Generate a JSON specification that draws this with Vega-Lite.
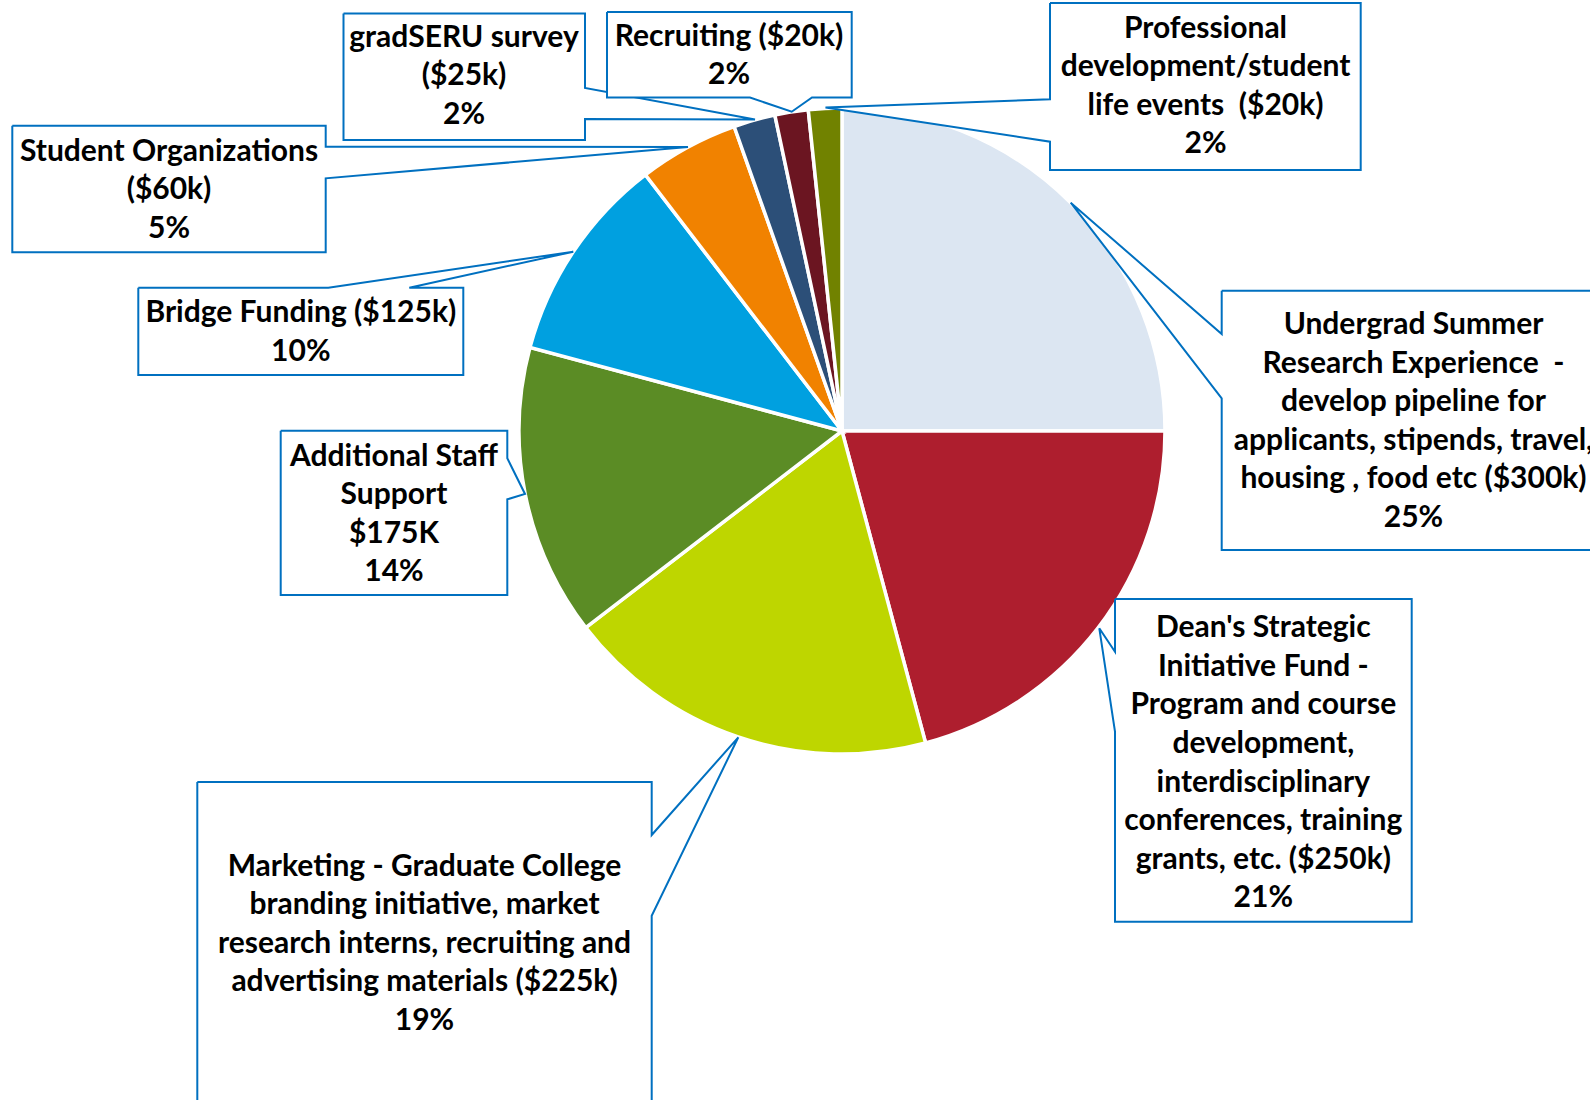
{
  "$schema": "https://vega.github.io/schema/vega-lite/v6.json",
  "width": 1590,
  "height": 1100,
  "autosize": "none",
  "padding": 0,
  "background": "white",
  "config": {"view": {"stroke": null}},
  "datasets": {
    "slices": [
      {"category": "Undergrad Summer Research Experience", "amount": 300, "rank": 1},
      {"category": "Dean's Strategic Initiative Fund", "amount": 250, "rank": 2},
      {"category": "Marketing - Graduate College", "amount": 225, "rank": 3},
      {"category": "Additional Staff Support", "amount": 175, "rank": 4},
      {"category": "Bridge Funding", "amount": 125, "rank": 5},
      {"category": "Student Organizations", "amount": 60, "rank": 6},
      {"category": "gradSERU survey", "amount": 25, "rank": 7},
      {"category": "Recruiting", "amount": 20, "rank": 8},
      {"category": "Professional development/student life events", "amount": 20, "rank": 9}
    ],
    "callouts": [
      {"id": "a_so", "seq": 1, "X": -829.7, "Y": 305.3},
      {"id": "a_so", "seq": 2, "X": -516.3, "Y": 305.3},
      {"id": "a_so", "seq": 3, "X": -516.3, "Y": 284.3},
      {"id": "a_so", "seq": 4, "X": -154, "Y": 284},
      {"id": "a_so", "seq": 5, "X": -516.3, "Y": 252.7},
      {"id": "a_so", "seq": 6, "X": -516.3, "Y": 178.7},
      {"id": "a_so", "seq": 7, "X": -829.7, "Y": 178.7},
      {"id": "a_so", "seq": 8, "X": -829.7, "Y": 305.3},

      {"id": "b_bridge", "seq": 1, "X": -703.7, "Y": 143.3},
      {"id": "b_bridge", "seq": 2, "X": -513.7, "Y": 143.3},
      {"id": "b_bridge", "seq": 3, "X": -268.7, "Y": 179.3},
      {"id": "b_bridge", "seq": 4, "X": -432.7, "Y": 143.3},
      {"id": "b_bridge", "seq": 5, "X": -378.7, "Y": 143.3},
      {"id": "b_bridge", "seq": 6, "X": -378.7, "Y": 56},
      {"id": "b_bridge", "seq": 7, "X": -703.7, "Y": 56},
      {"id": "b_bridge", "seq": 8, "X": -703.7, "Y": 143.3},

      {"id": "c_staff", "seq": 1, "X": -561.3, "Y": 0.3},
      {"id": "c_staff", "seq": 2, "X": -334.7, "Y": 0.3},
      {"id": "c_staff", "seq": 3, "X": -334.7, "Y": -27.3},
      {"id": "c_staff", "seq": 4, "X": -317, "Y": -63},
      {"id": "c_staff", "seq": 5, "X": -334.7, "Y": -68.3},
      {"id": "c_staff", "seq": 6, "X": -334.7, "Y": -164},
      {"id": "c_staff", "seq": 7, "X": -561.3, "Y": -164},
      {"id": "c_staff", "seq": 8, "X": -561.3, "Y": 0.3},

      {"id": "d_mkt", "seq": 1, "X": -644.7, "Y": -351},
      {"id": "d_mkt", "seq": 2, "X": -190.3, "Y": -351},
      {"id": "d_mkt", "seq": 3, "X": -190.3, "Y": -404},
      {"id": "d_mkt", "seq": 4, "X": -103.7, "Y": -306.3},
      {"id": "d_mkt", "seq": 5, "X": -190.3, "Y": -484.7},
      {"id": "d_mkt", "seq": 6, "X": -190.3, "Y": -689},
      {"id": "d_mkt", "seq": 7, "X": -644.7, "Y": -689},
      {"id": "d_mkt", "seq": 8, "X": -644.7, "Y": -351},

      {"id": "e_dean", "seq": 1, "X": 273, "Y": -168},
      {"id": "e_dean", "seq": 2, "X": 569.7, "Y": -168},
      {"id": "e_dean", "seq": 3, "X": 569.7, "Y": -490.7},
      {"id": "e_dean", "seq": 4, "X": 273, "Y": -490.7},
      {"id": "e_dean", "seq": 5, "X": 273, "Y": -300.7},
      {"id": "e_dean", "seq": 6, "X": 257.3, "Y": -197.3},
      {"id": "e_dean", "seq": 7, "X": 273, "Y": -220.7},
      {"id": "e_dean", "seq": 8, "X": 273, "Y": -168},

      {"id": "f_ug", "seq": 1, "X": 379.7, "Y": 140.3},
      {"id": "f_ug", "seq": 2, "X": 764, "Y": 140.3},
      {"id": "f_ug", "seq": 3, "X": 764, "Y": -119},
      {"id": "f_ug", "seq": 4, "X": 379.7, "Y": -119},
      {"id": "f_ug", "seq": 5, "X": 379.7, "Y": 32.7},
      {"id": "f_ug", "seq": 6, "X": 228.7, "Y": 228.3},
      {"id": "f_ug", "seq": 7, "X": 379.7, "Y": 97},
      {"id": "f_ug", "seq": 8, "X": 379.7, "Y": 140.3},

      {"id": "g_prof", "seq": 1, "X": 208, "Y": 428},
      {"id": "g_prof", "seq": 2, "X": 518.7, "Y": 428},
      {"id": "g_prof", "seq": 3, "X": 518.7, "Y": 261},
      {"id": "g_prof", "seq": 4, "X": 208, "Y": 261},
      {"id": "g_prof", "seq": 5, "X": 208, "Y": 289.3},
      {"id": "g_prof", "seq": 6, "X": -16.5, "Y": 323.5},
      {"id": "g_prof", "seq": 7, "X": 208, "Y": 331.7},
      {"id": "g_prof", "seq": 8, "X": 208, "Y": 428},

      {"id": "h_grad", "seq": 1, "X": -498.5, "Y": 417.5},
      {"id": "h_grad", "seq": 2, "X": -257, "Y": 417.5},
      {"id": "h_grad", "seq": 3, "X": -257, "Y": 343},
      {"id": "h_grad", "seq": 4, "X": -87, "Y": 311.5},
      {"id": "h_grad", "seq": 5, "X": -257, "Y": 312},
      {"id": "h_grad", "seq": 6, "X": -257, "Y": 291},
      {"id": "h_grad", "seq": 7, "X": -498.5, "Y": 291},
      {"id": "h_grad", "seq": 8, "X": -498.5, "Y": 417.5},

      {"id": "i_rec", "seq": 1, "X": -235, "Y": 419},
      {"id": "i_rec", "seq": 2, "X": 9.7, "Y": 419},
      {"id": "i_rec", "seq": 3, "X": 9.7, "Y": 333.5},
      {"id": "i_rec", "seq": 4, "X": -30, "Y": 333.5},
      {"id": "i_rec", "seq": 5, "X": -50.3, "Y": 319.3},
      {"id": "i_rec", "seq": 6, "X": -92, "Y": 333.5},
      {"id": "i_rec", "seq": 7, "X": -235, "Y": 333.5},
      {"id": "i_rec", "seq": 8, "X": -235, "Y": 419}
    ],
    "labels": [
      {"id": "a_so", "X": -673, "Y": 279.3, "label": "Student Organizations\n($60k)\n5%"},
      {"id": "b_bridge", "X": -541.2, "Y": 117.7, "label": "Bridge Funding ($125k)\n10%"},
      {"id": "c_staff", "X": -448, "Y": -25.7, "label": "Additional Staff\nSupport\n$175K\n14%"},
      {"id": "d_mkt", "X": -417.5, "Y": -435.7, "label": "Marketing - Graduate College\nbranding initiative, market\nresearch interns, recruiting and\nadvertising materials ($225k)\n19%"},
      {"id": "e_dean", "X": 421.3, "Y": -197.3, "label": "Dean's Strategic\nInitiative Fund -\nProgram and course\ndevelopment,\ninterdisciplinary\nconferences, training\ngrants, etc. ($250k)\n21%"},
      {"id": "f_ug", "X": 571.5, "Y": 106, "label": "Undergrad Summer\nResearch Experience \u00a0-\ndevelop pipeline for\napplicants, stipends, travel,\nhousing , food etc ($300k)\n25%"},
      {"id": "g_prof", "X": 363.5, "Y": 402.5, "label": "Professional\ndevelopment/student\nlife events \u00a0($20k)\n2%"},
      {"id": "h_grad", "X": -378, "Y": 393.5, "label": "gradSERU survey\n($25k)\n2%"},
      {"id": "i_rec", "X": -113, "Y": 394.5, "label": "Recruiting ($20k)\n2%"}
    ]
  },
  "layer": [
    {
      "data": {"name": "slices"},
      "mark": {"type": "arc", "outerRadius": 323, "stroke": "white", "strokeWidth": 3.5},
      "encoding": {
        "theta": {"field": "amount", "type": "quantitative", "stack": true},
        "order": {"field": "rank", "type": "quantitative"},
        "color": {
          "field": "category",
          "type": "nominal",
          "legend": null,
          "scale": {
            "domain": ["Undergrad Summer Research Experience", "Dean's Strategic Initiative Fund", "Marketing - Graduate College", "Additional Staff Support", "Bridge Funding", "Student Organizations", "gradSERU survey", "Recruiting", "Professional development/student life events"],
            "range": ["#DCE6F2", "#AE1E2E", "#BED600", "#5B8C25", "#00A0E0", "#F18200", "#2C4F78", "#6B1521", "#718200"]
          }
        },
        "x": {"datum": 0, "type": "quantitative", "scale": {"domain": [-842, 748], "nice": false, "zero": false}, "axis": null},
        "y": {"datum": 0, "type": "quantitative", "scale": {"domain": [-669, 431], "nice": false, "zero": false}, "axis": null}
      }
    },
    {
      "data": {"name": "callouts"},
      "mark": {"type": "line", "stroke": "#0070C0", "strokeWidth": 2, "fill": "white", "strokeJoin": "miter", "interpolate": "linear"},
      "encoding": {
        "x": {"field": "X", "type": "quantitative", "scale": {"domain": [-842, 748], "nice": false, "zero": false}, "axis": null},
        "y": {"field": "Y", "type": "quantitative", "scale": {"domain": [-669, 431], "nice": false, "zero": false}, "axis": null},
        "detail": {"field": "id", "type": "nominal"},
        "order": {"field": "seq", "type": "quantitative"},
        "fill": {"value": "white"}
      }
    },
    {
      "data": {"name": "labels"},
      "mark": {"type": "text", "font": "Lato", "fontWeight": "bold", "fontSize": 30, "lineHeight": 38.6, "lineBreak": "\n", "align": "center", "baseline": "middle", "color": "#000000"},
      "encoding": {
        "x": {"field": "X", "type": "quantitative", "scale": {"domain": [-842, 748], "nice": false, "zero": false}, "axis": null},
        "y": {"field": "Y", "type": "quantitative", "scale": {"domain": [-669, 431], "nice": false, "zero": false}, "axis": null},
        "text": {"field": "label", "type": "nominal"}
      }
    }
  ]
}
